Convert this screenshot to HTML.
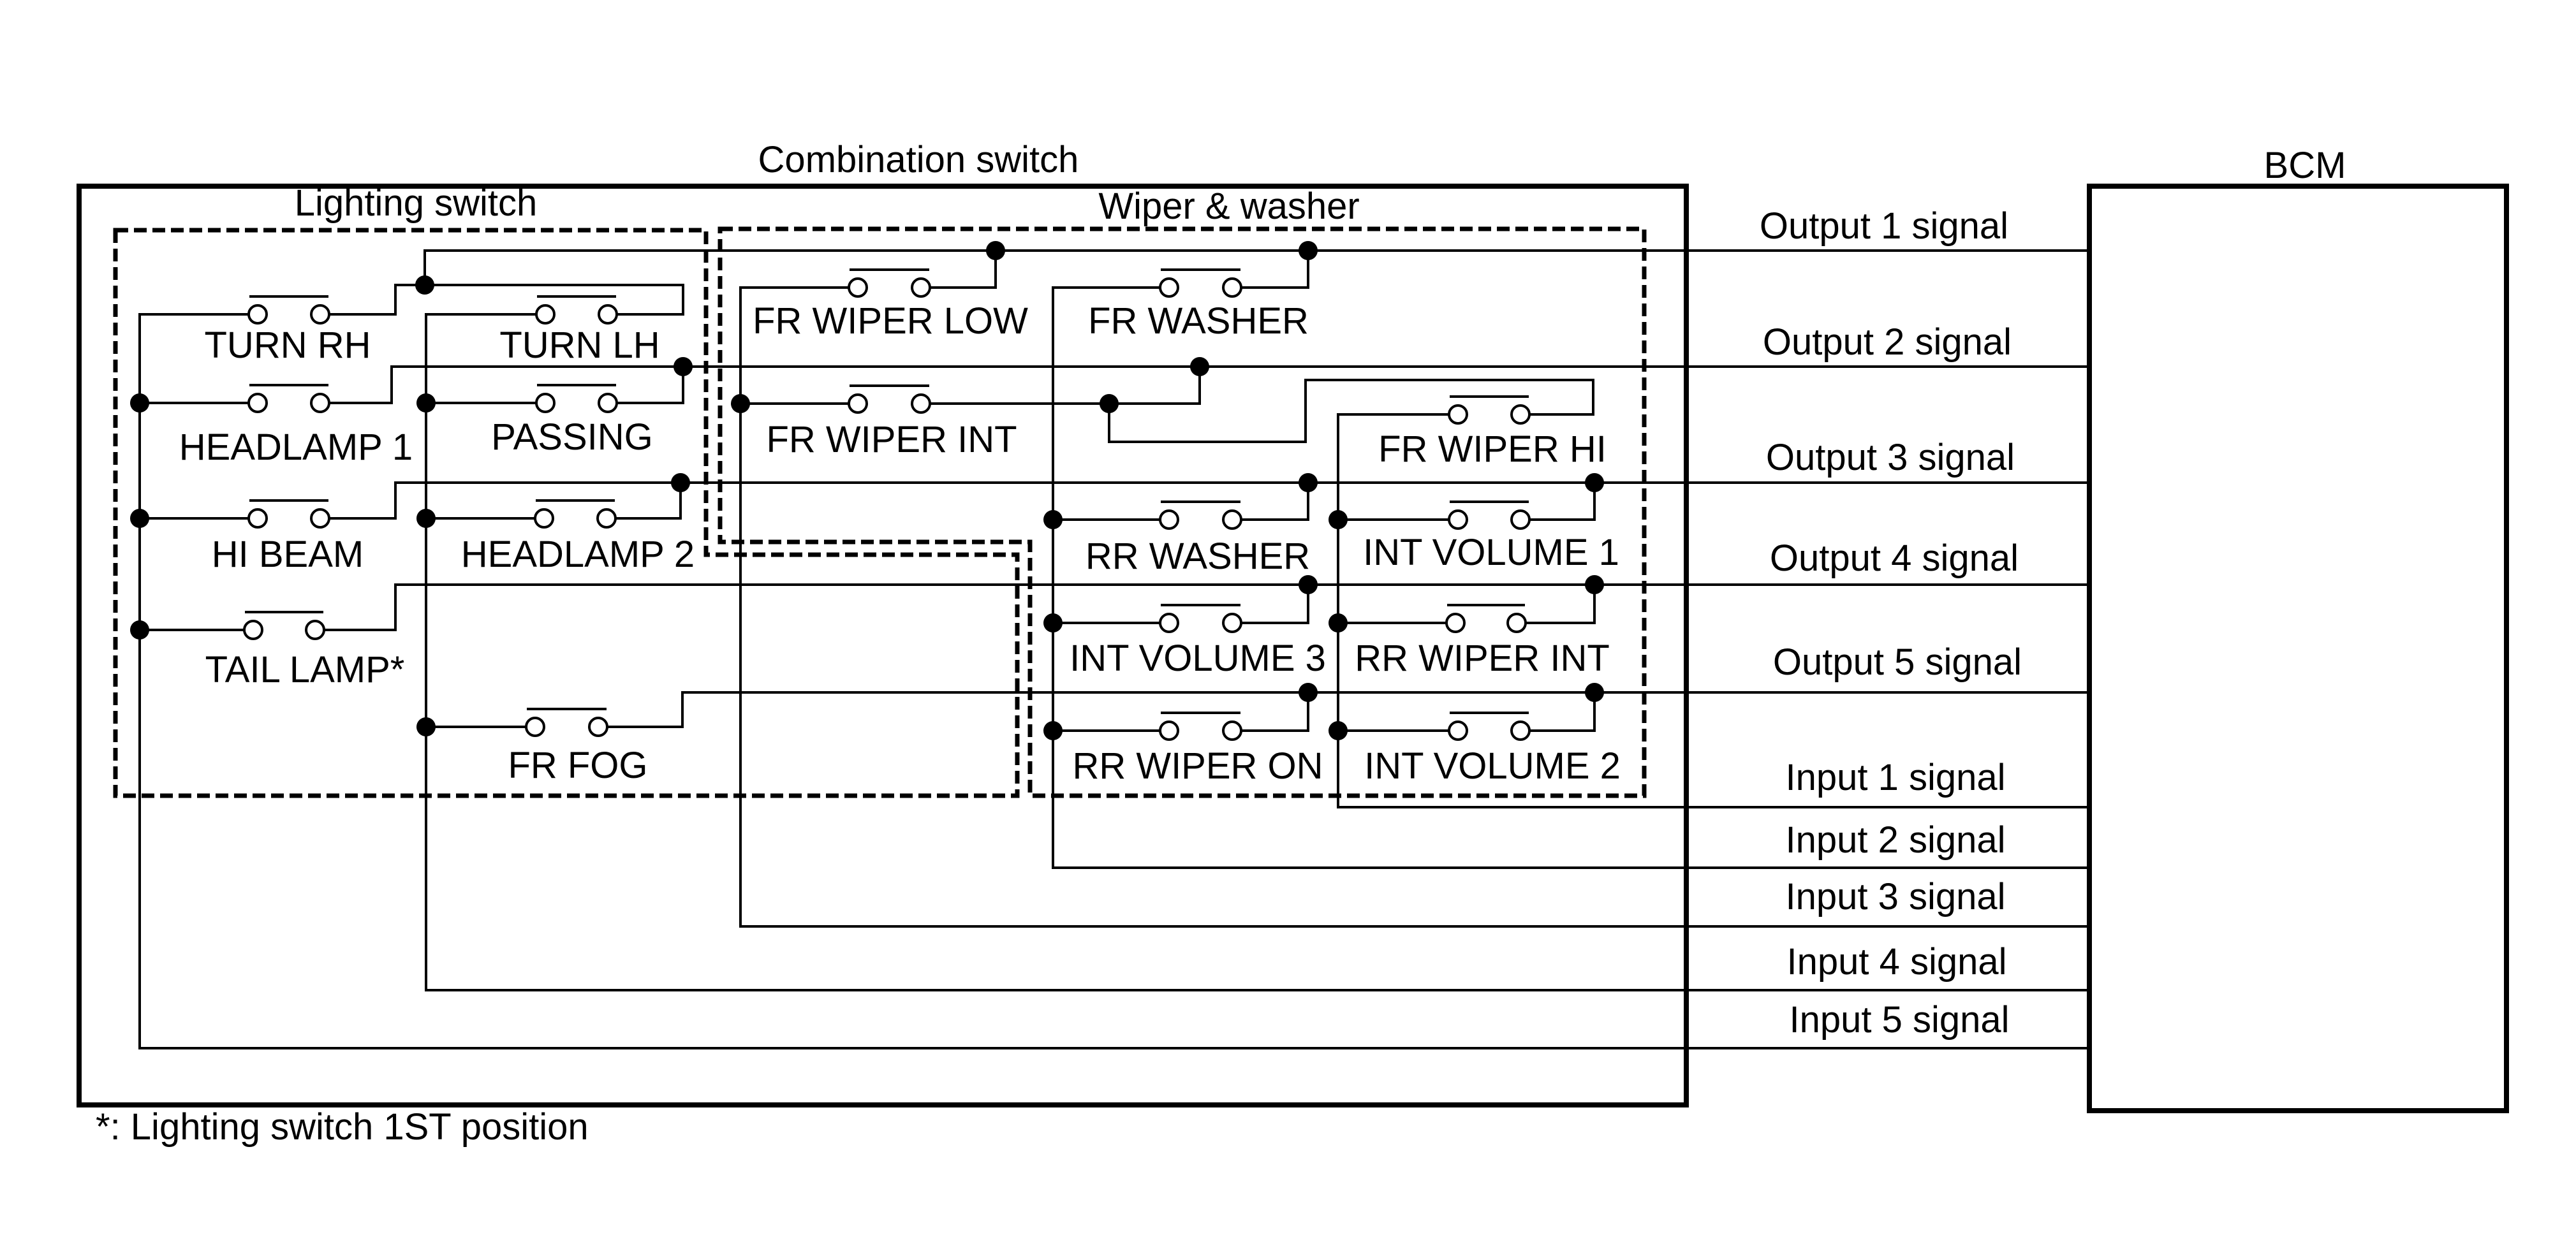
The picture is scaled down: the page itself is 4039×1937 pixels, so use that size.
<!DOCTYPE html>
<html><head><meta charset="utf-8"><style>
html,body{margin:0;padding:0;background:#fff;}
svg{display:block;}
text{font-family:"Liberation Sans",Arial,sans-serif;font-size:58px;fill:#000;}
</style></head><body>
<svg width="4039" height="1937" viewBox="0 0 4039 1937" xmlns="http://www.w3.org/2000/svg">
<rect width="4039" height="1937" fill="#fff"/>
<!-- outer boxes -->
<rect x="124" y="292" width="2520" height="1441" fill="none" stroke="#000" stroke-width="8"/>
<rect x="3276" y="292" width="654" height="1450" fill="none" stroke="#000" stroke-width="8"/>
<!-- dashed boxes -->
<g fill="none" stroke="#000" stroke-width="7" stroke-dasharray="20 9">
<path d="M181,361 L1107,361 L1107,870 L1595,870 L1595,1248 L181,1248 Z"/>
<path d="M1129,359 L2578,359 L2578,1248 L1615,1248 L1615,850 L1129,850 Z"/>
</g>
<!-- wires -->
<g fill="none" stroke="#000" stroke-width="4">
<polyline points="390,493 219,493 219,1644 3276,1644"/>
<polyline points="516,493 620,493 620,447 1071,447 1071,493 967,493"/>
<polyline points="666,447 666,393 3276,393"/>
<polyline points="841,493 668,493 668,1553 3276,1553"/>
<polyline points="219,632 390,632"/>
<polyline points="516,632 614,632 614,575 3276,575"/>
<polyline points="668,632 841,632"/>
<polyline points="967,632 1071,632 1071,575"/>
<polyline points="219,813 390,813"/>
<polyline points="516,813 620,813 620,757 3276,757"/>
<polyline points="668,813 839,813"/>
<polyline points="965,813 1067,813 1067,757"/>
<polyline points="219,988 383,988"/>
<polyline points="508,988 620,988 620,917 3276,917"/>
<polyline points="668,1140 825,1140"/>
<polyline points="952,1140 1070,1140 1070,1086 3276,1086"/>
<polyline points="1331,451 1161,451 1161,1453 3276,1453"/>
<polyline points="1458,451 1561,451 1561,393"/>
<polyline points="1819,451 1651,451 1651,1361 3276,1361"/>
<polyline points="1946,451 2051,451 2051,393"/>
<polyline points="1161,633 1331,633"/>
<polyline points="1458,633 1881,633 1881,575"/>
<polyline points="1739,633 1739,693 2047,693 2047,596 2498,596 2498,650 2398,650"/>
<polyline points="2272,650 2098,650 2098,1266 3276,1266"/>
<polyline points="1651,815 1819,815"/>
<polyline points="1946,815 2051,815 2051,757"/>
<polyline points="2098,815 2272,815"/>
<polyline points="2398,815 2500,815 2500,757"/>
<polyline points="1651,977 1819,977"/>
<polyline points="1946,977 2051,977 2051,917"/>
<polyline points="2098,977 2268,977"/>
<polyline points="2392,977 2500,977 2500,917"/>
<polyline points="1651,1146 1819,1146"/>
<polyline points="1946,1146 2051,1146 2051,1086"/>
<polyline points="2098,1146 2272,1146"/>
<polyline points="2398,1146 2500,1146 2500,1086"/>
</g>
<!-- contacts -->
<g fill="#fff" stroke="#000" stroke-width="4">
<circle cx="404" cy="493" r="14"/><circle cx="502" cy="493" r="14"/>
<circle cx="855" cy="493" r="14"/><circle cx="953" cy="493" r="14"/>
<circle cx="404" cy="632" r="14"/><circle cx="502" cy="632" r="14"/>
<circle cx="855" cy="632" r="14"/><circle cx="953" cy="632" r="14"/>
<circle cx="404" cy="813" r="14"/><circle cx="502" cy="813" r="14"/>
<circle cx="853" cy="813" r="14"/><circle cx="951" cy="813" r="14"/>
<circle cx="397" cy="988" r="14"/><circle cx="494" cy="988" r="14"/>
<circle cx="839" cy="1140" r="14"/><circle cx="938" cy="1140" r="14"/>
<circle cx="1345" cy="451" r="14"/><circle cx="1444" cy="451" r="14"/>
<circle cx="1833" cy="451" r="14"/><circle cx="1932" cy="451" r="14"/>
<circle cx="1345" cy="633" r="14"/><circle cx="1444" cy="633" r="14"/>
<circle cx="2286" cy="650" r="14"/><circle cx="2384" cy="650" r="14"/>
<circle cx="1833" cy="815" r="14"/><circle cx="1932" cy="815" r="14"/>
<circle cx="2286" cy="815" r="14"/><circle cx="2384" cy="815" r="14"/>
<circle cx="1833" cy="977" r="14"/><circle cx="1932" cy="977" r="14"/>
<circle cx="2282" cy="977" r="14"/><circle cx="2378" cy="977" r="14"/>
<circle cx="1833" cy="1146" r="14"/><circle cx="1932" cy="1146" r="14"/>
<circle cx="2286" cy="1146" r="14"/><circle cx="2384" cy="1146" r="14"/>
</g>
<!-- bars -->
<g stroke="#000" stroke-width="4">
<line x1="391" y1="465" x2="515" y2="465"/>
<line x1="842" y1="465" x2="966" y2="465"/>
<line x1="391" y1="604" x2="515" y2="604"/>
<line x1="842" y1="604" x2="966" y2="604"/>
<line x1="391" y1="785" x2="515" y2="785"/>
<line x1="840" y1="785" x2="964" y2="785"/>
<line x1="384" y1="960" x2="507" y2="960"/>
<line x1="826" y1="1112" x2="951" y2="1112"/>
<line x1="1332" y1="423" x2="1457" y2="423"/>
<line x1="1820" y1="423" x2="1945" y2="423"/>
<line x1="1332" y1="605" x2="1457" y2="605"/>
<line x1="2273" y1="622" x2="2397" y2="622"/>
<line x1="1820" y1="787" x2="1945" y2="787"/>
<line x1="2273" y1="787" x2="2397" y2="787"/>
<line x1="1820" y1="949" x2="1945" y2="949"/>
<line x1="2269" y1="949" x2="2391" y2="949"/>
<line x1="1820" y1="1118" x2="1945" y2="1118"/>
<line x1="2273" y1="1118" x2="2397" y2="1118"/>
</g>
<!-- dots -->
<g fill="#000">
<circle cx="666" cy="447" r="15"/>
<circle cx="219" cy="632" r="15"/><circle cx="668" cy="632" r="15"/><circle cx="1071" cy="575" r="15"/>
<circle cx="219" cy="813" r="15"/><circle cx="668" cy="813" r="15"/><circle cx="1067" cy="757" r="15"/>
<circle cx="219" cy="988" r="15"/><circle cx="668" cy="1140" r="15"/>
<circle cx="1561" cy="393" r="15"/><circle cx="2051" cy="393" r="15"/>
<circle cx="1161" cy="633" r="15"/><circle cx="1739" cy="633" r="15"/><circle cx="1881" cy="575" r="15"/>
<circle cx="2051" cy="757" r="15"/><circle cx="2500" cy="757" r="15"/>
<circle cx="1651" cy="815" r="15"/><circle cx="2098" cy="815" r="15"/>
<circle cx="2051" cy="917" r="15"/><circle cx="2500" cy="917" r="15"/>
<circle cx="1651" cy="977" r="15"/><circle cx="2098" cy="977" r="15"/>
<circle cx="2051" cy="1086" r="15"/><circle cx="2500" cy="1086" r="15"/>
<circle cx="1651" cy="1146" r="15"/><circle cx="2098" cy="1146" r="15"/>
</g>
<!-- labels -->
<g text-anchor="middle">
<text x="1440" y="270">Combination switch</text>
<text x="652" y="338">Lighting switch</text>
<text x="1927" y="343">Wiper &amp; washer</text>
<text x="3614" y="279">BCM</text>
<text x="451" y="561">TURN RH</text>
<text x="909" y="561">TURN LH</text>
<text x="464" y="721">HEADLAMP 1</text>
<text x="897" y="705">PASSING</text>
<text x="451" y="889">HI BEAM</text>
<text x="906" y="889">HEADLAMP 2</text>
<text x="478" y="1070">TAIL LAMP*</text>
<text x="906" y="1220">FR FOG</text>
<text x="1396" y="523">FR WIPER LOW</text>
<text x="1879" y="523">FR WASHER</text>
<text x="1398" y="709">FR WIPER INT</text>
<text x="2340" y="724">FR WIPER HI</text>
<text x="1878" y="892">RR WASHER</text>
<text x="2338" y="886">INT VOLUME 1</text>
<text x="1878" y="1052">INT VOLUME 3</text>
<text x="2324" y="1052">RR WIPER INT</text>
<text x="1878" y="1221">RR WIPER ON</text>
<text x="2340" y="1221">INT VOLUME 2</text>
<text x="2954" y="374">Output 1 signal</text>
<text x="2959" y="556">Output 2 signal</text>
<text x="2964" y="737">Output 3 signal</text>
<text x="2970" y="895">Output 4 signal</text>
<text x="2975" y="1058">Output 5 signal</text>
<text x="2972" y="1239">Input 1 signal</text>
<text x="2972" y="1337">Input 2 signal</text>
<text x="2972" y="1426">Input 3 signal</text>
<text x="2974" y="1528">Input 4 signal</text>
<text x="2978" y="1619">Input 5 signal</text>
</g>
<text x="150" y="1787">*: Lighting switch 1ST position</text>
</svg>
</body></html>
